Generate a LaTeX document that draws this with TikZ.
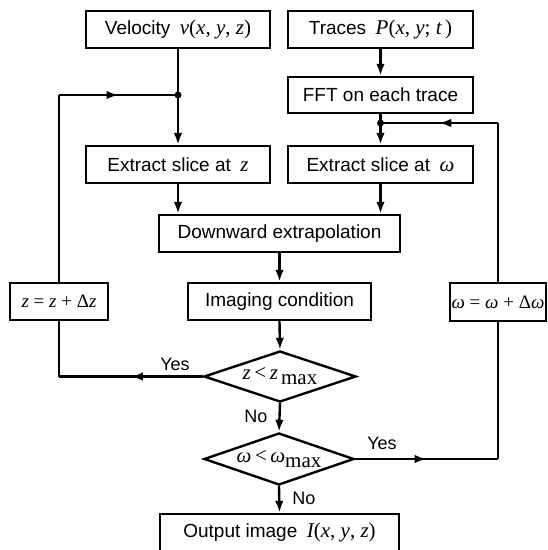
\documentclass[tikz,border=0pt]{standalone}
\usepackage{fontspec}
\setmainfont{Liberation Sans}
\newfontfamily\mth{Liberation Serif}
\usetikzlibrary{shapes.geometric,arrows.meta,decorations.markings}
\newcommand{\mi}[1]{{\mth\fontsize{21}{24}\selectfont\itshape #1}}
\newcommand{\mr}[1]{{\mth\fontsize{21}{24}\selectfont #1}}
\newcommand{\mis}[1]{{\mth\fontsize{19}{23}\selectfont\itshape #1}}
\newcommand{\mrs}[1]{{\mth\fontsize{19}{23}\selectfont #1}}
\newcommand{\zerobox}[1]{\makebox[0pt]{\smash{#1}}}
\tikzset{
  box/.style={draw, line width=2.4pt, inner sep=0pt, font=\fontsize{19}{22}\selectfont},
  dia/.style={draw, diamond, aspect=3, line width=2.4pt, inner sep=0pt, font=\fontsize{19}{22}\selectfont},
  conn/.style={line width=2.4pt, -{Latex[length=12pt,width=8.5pt]}},
  plain/.style={line width=2.4pt},
  midarrow/.style={line width=2.4pt, postaction={decorate}, decoration={markings, mark=at position 0.5 with {\arrow{Latex[length=12pt,width=8.5pt]}}}},
  lab/.style={font=\fontsize{18}{21}\selectfont, inner sep=0pt},
  dot/.style={circle, fill, inner sep=0pt, minimum size=7pt}
}
\begin{document}
\begin{tikzpicture}[x=1pt,y=-1pt]
\useasboundingbox (0,0) rectangle (548,550);
\begin{scope}
\clip (0,0) rectangle (548,550);
% boxes
\node[box, minimum width=184pt, minimum height=37pt] (vel) at (178,29.5) {Velocity\enspace \mi{v}\mr{(}\mi{x}\mr{, }\mi{y}\mr{, }\mi{z}\mr{)}};
\node[box, minimum width=185pt, minimum height=37pt] (tr) at (380.5,29.5) {Traces\enspace \mi{P}\mr{(}\mi{x}\mr{, }\mi{y}\mr{; }\mi{t}\mr{\,)}};
\node[box, minimum width=185pt, minimum height=36pt] (fft) at (380.5,95) {FFT on each trace};
\node[box, minimum width=184pt, minimum height=37pt] (exz) at (178,164.5) {Extract slice at\enspace \mi{z}};
\node[box, minimum width=185pt, minimum height=37pt] (exw) at (380.5,164.5) {Extract slice at\enspace \mi{ω}};
\node[box, minimum width=241pt, minimum height=37pt] (down) at (279.5,233.5) {Downward extrapolation};
\node[box, minimum width=183pt, minimum height=37pt] (img) at (279.5,301.5) {Imaging condition};
\node[box, minimum width=98pt, minimum height=37pt] (zb) at (59,301.5) {\mis{z}\mrs{ = }\mis{z}\mrs{ + Δ}\mis{z}};
\node[box, minimum width=96pt, minimum height=38pt] (wb) at (498,302) {\mis{ω}\mrs{ = }\mis{ω}\mrs{ + Δ}\mis{ω}};
\node[dia, minimum width=152pt, minimum height=51pt] (d1) at (280,376.5) {\zerobox{\raisebox{-3pt}{\mi{z}\mr{\,<\,}\mi{z}\,\raisebox{-5pt}{\mr{max}}}}};
\node[dia, minimum width=150pt, minimum height=52pt] (d2) at (279,459) {\zerobox{\raisebox{-3pt}{\mi{ω}\mr{\,<\,}\mi{ω}\raisebox{-5pt}{\mr{max}}}}};
\node[box, minimum width=239pt, minimum height=37pt] (out) at (279.5,532.5) {Output image\enspace \mi{I}\mr{(}\mi{x}\mr{, }\mi{y}\mr{, }\mi{z}\mr{)}};
% junctions
\coordinate (jl) at (vel.south |- 0,95);
\coordinate (jr) at (fft.south |- 0,123);
\node[dot] (jld) at (jl) {};
\node[dot] (jrd) at (jr) {};
\coordinate (lt) at (zb.north |- jl);
\coordinate (lb) at (zb.south |- d1.west);
\coordinate (rt) at (wb.north |- jr);
\coordinate (rb) at (wb.south |- d2.east);
% connectors
\draw[conn] (vel.south) -- (exz.north);
\draw[conn] (tr.south) -- (fft.north);
\draw[plain] (fft.south) -- (jr);
\draw[conn] (jr) -- (exw.north);
\draw[conn] (exz.south) -- (exz.south |- down.north);
\draw[conn] (exw.south) -- (exw.south |- down.north);
\draw[conn] (down.south) -- (img.north);
\draw[conn] (img.south) -- (d1.north);
\draw[conn] (d1.south) -- (d2.north);
\draw[conn] (d2.south) -- (out.north);
% left loop
\draw[midarrow] (d1.west) -- (lb);
\draw[plain] (lb) -- (zb.south);
\draw[plain] (zb.north) -- (lt);
\draw[midarrow] (lt) -- (jl);
% right loop
\draw[midarrow] (d2.east) -- (rb);
\draw[plain] (rb) -- (wb.south);
\draw[plain] (wb.north) -- (rt);
\draw[midarrow] (rt) -- (jr);
% labels
\node[lab] (y1) at (175,364) {Yes};
\node[lab] (n1) at (256,416) {No};
\node[lab] (y2) at (382,443) {Yes};
\node[lab] (n2) at (304,498) {No};
\end{scope}
\end{tikzpicture}
\end{document}
